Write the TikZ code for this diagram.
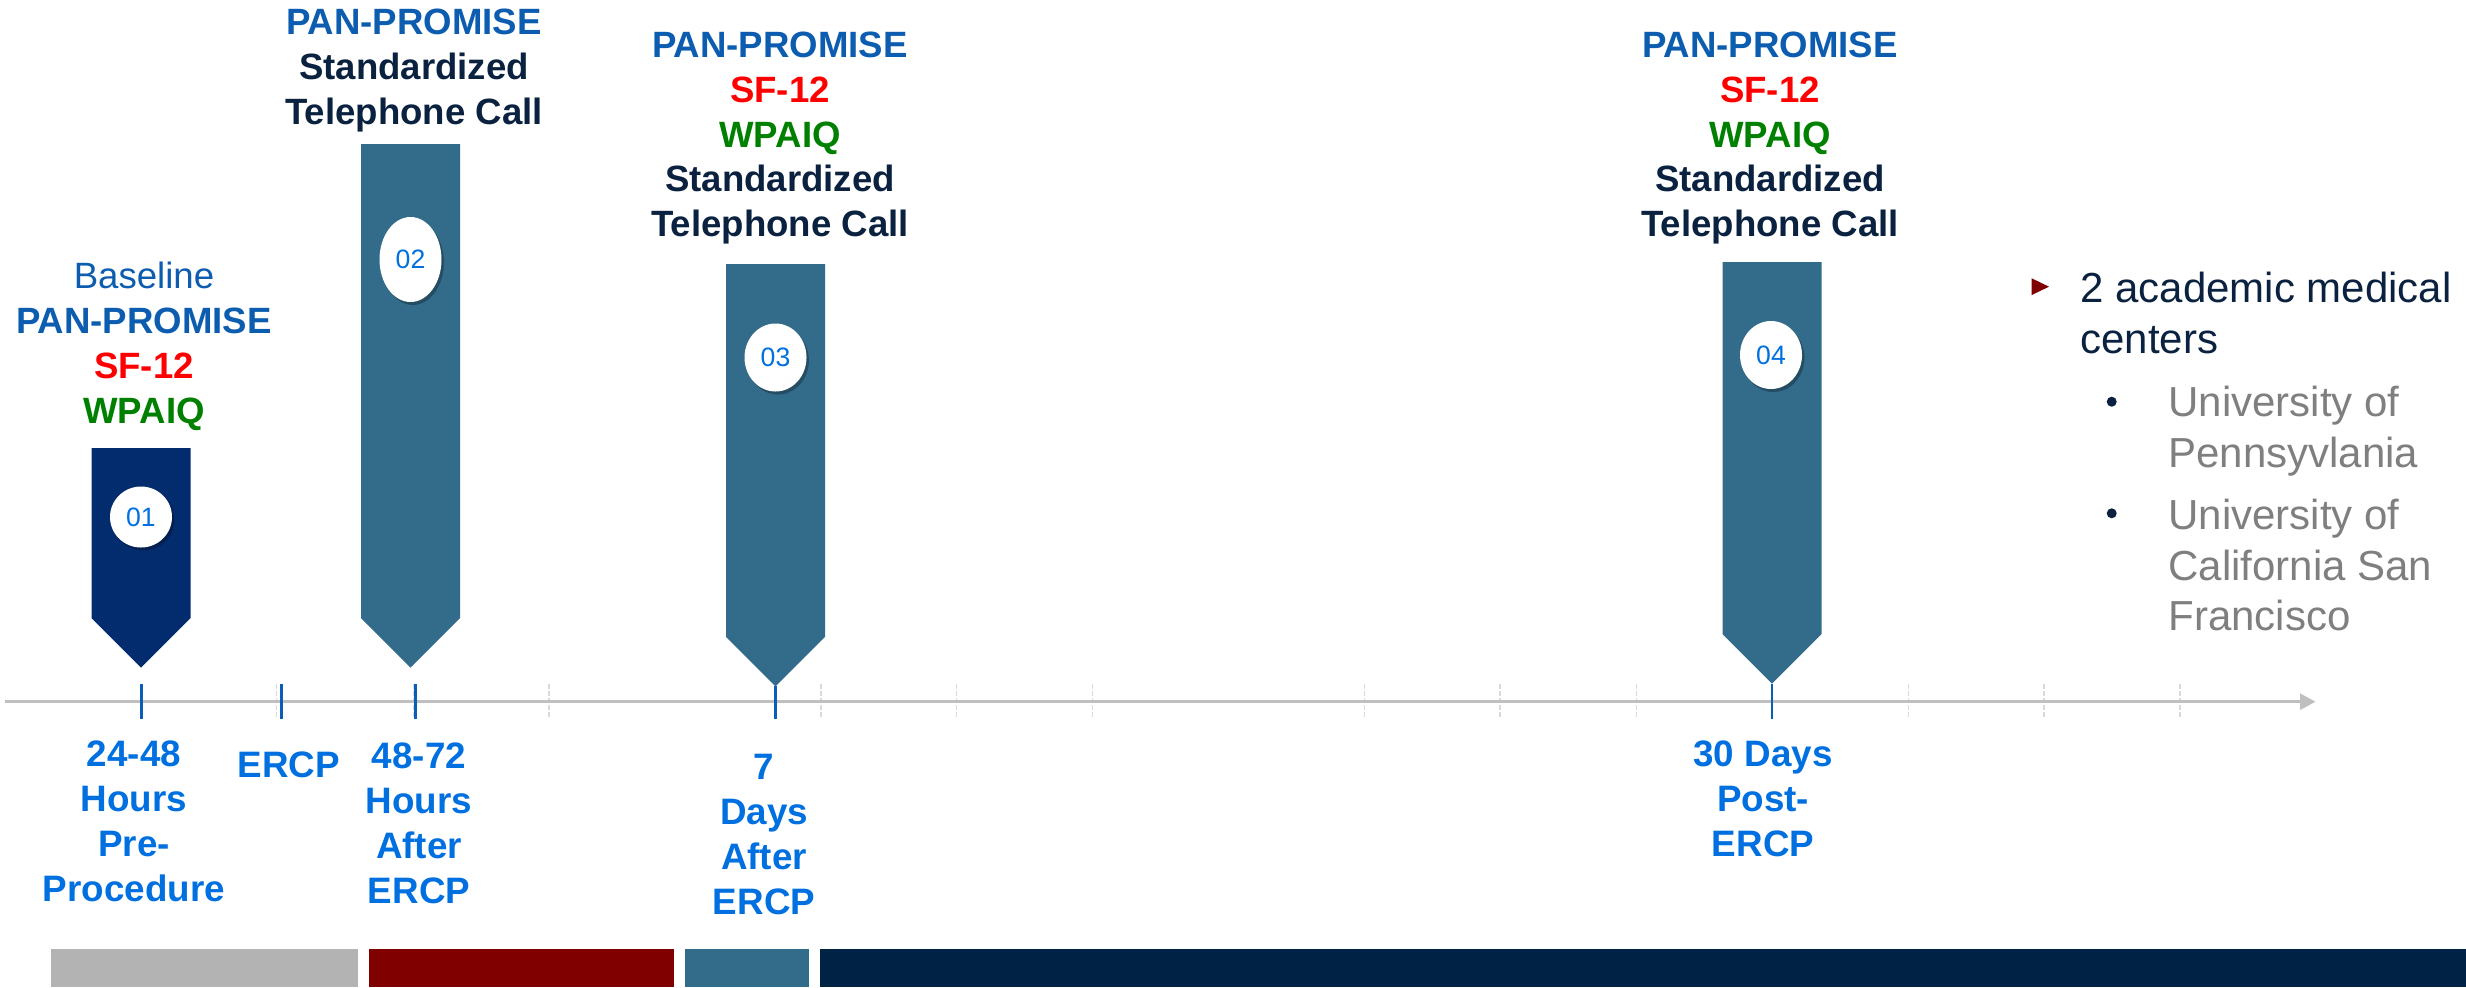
\documentclass[tikz,border=0pt]{standalone}
\usepackage{fontspec}
\setmainfont{Liberation Sans}
\usetikzlibrary{shapes.geometric,shadows,arrows.meta}

\definecolor{markernavy}{RGB}{3,44,110}
\definecolor{markersteel}{RGB}{51,107,138}
\definecolor{axisgray}{RGB}{191,191,191}
\definecolor{minorgray}{RGB}{217,217,217}
\definecolor{tickblue}{RGB}{10,94,184}
\definecolor{datablue}{RGB}{0,112,224}
\definecolor{promblue}{RGB}{12,92,176}
\definecolor{sfred}{RGB}{255,0,0}
\definecolor{wpgreen}{RGB}{0,128,0}
\definecolor{inknavy}{RGB}{10,34,64}
\definecolor{bargray}{RGB}{179,179,179}
\definecolor{barred}{RGB}{128,0,0}
\definecolor{barnavy}{RGB}{0,34,68}
\definecolor{sitegray}{RGB}{127,127,127}

\newcommand{\pp}{\textcolor{promblue}{PAN-PROMISE}}
\newcommand{\sft}{\textcolor{sfred}{SF-12}}
\newcommand{\wpq}{\textcolor{wpgreen}{WPAIQ}}
\newcommand{\stdcall}{\textcolor{inknavy}{Standardized}\\\textcolor{inknavy}{Telephone Call}}

\begin{document}
\begin{tikzpicture}[x=0.5pt,y=-0.5pt,
  axisline/.style={draw=axisgray,line width=1.35pt,-{Triangle[length=7.75pt,width=8pt]}},
  minortick/.style={draw=minorgray,line width=0.75pt,dash pattern=on 2.5pt off 1pt},
  majortick/.style={draw=tickblue,line width=1.4pt},
  badge/.style={ellipse,fill=white,inner sep=0pt,text=datablue,
    font=\fontsize{13.3}{15}\selectfont,
    drop shadow={shadow xshift=1.2pt,shadow yshift=-1.5pt,opacity=0.28,fill=black}},
  % multi-line labels are anchored at the baseline of their last line
  toplabel/.style={align=center,anchor=base,inner sep=0pt,
    font=\fontsize{18.3}{22.4}\selectfont\bfseries},
  datelabel/.style={align=center,anchor=base,inner sep=0pt,text=datablue,
    font=\fontsize{18.4}{22.5}\selectfont\bfseries},
  sitetext/.style={align=left,anchor=base west,inner sep=0pt,
    font=\fontsize{21}{25.2}\selectfont}]
\useasboundingbox (0,0) rectangle (2466,987);

% colour band along the bottom edge
\fill[bargray] (51,949) rectangle (358,987);
\fill[barred] (369,949) rectangle (674,987);
\fill[markersteel] (685,949) rectangle (808.5,987);
\fill[barnavy] (820,949) rectangle (2466,987);

% time axis with its light minor ticks
\coordinate (axisstart) at (4.6,701.7);
\coordinate (axisend) at (2315.5,701.7);
\foreach \x in {276.7,413.3,548.8,820.8,956.3,1092.5,1364.6,1500,1636.3,1908.3,2044.2,2180}
  \draw[minortick] (\x,684) -- (\x,719);
\draw[axisline] (axisstart) -- (axisend);

% visit markers (pointer shapes)
\fill[markernavy] (91.5,448) -- (190.5,448) -- (190.5,618) -- (141,667.5) -- (91.5,618) -- cycle;
\fill[markersteel] (361,144) -- (460,144) -- (460,618) -- (410.5,667.5) -- (361,618) -- cycle;
\fill[markersteel] (726,264) -- (825,264) -- (825,636.8) -- (775.5,686.3) -- (726,636.8) -- cycle;
\fill[markersteel] (1722.5,262) -- (1821.5,262) -- (1821.5,634.2) -- (1772,683.7) -- (1722.5,634.2) -- cycle;
\coordinate (tip3) at (775.5,686.3);
\coordinate (tip4) at (1772,683.7);

% event ticks on the axis
\draw[majortick] (141.2,684) -- (141.2,719);
\draw[majortick] (281.7,684) -- (281.7,719);
\draw[majortick] (415.2,684) -- (415.2,719);
\coordinate (foot3) at (775.5,719);
\coordinate (foot4) at (1772,719);
\draw[majortick] (tip3) -- (foot3);
\draw[majortick] (tip4) -- (foot4);

% numbered badges
\node[badge,minimum width=31pt,minimum height=30.5pt] (b1) at (141,517) {01};
\node[badge,minimum width=31pt,minimum height=42.5pt] (b2) at (410.5,259.5) {02};
\node[badge,minimum width=31pt,minimum height=34pt] (b3) at (775.5,357.5) {03};
\node[badge,minimum width=31pt,minimum height=34pt] (b4) at (1771,355) {04};

% instruments collected at each visit
\node[toplabel] (l1) at (144,423) {\textcolor{promblue}{\mdseries Baseline}\\\pp\\\sft\\\wpq};
\node[toplabel] (l2) at (414,124) {\pp\\\stdcall};
\node[toplabel] (l3) at (780,236.7) {\pp\\\sft\\\wpq\\\stdcall};
\node[toplabel] (l4) at (1770,236.7) {\pp\\\sft\\\wpq\\\stdcall};

% dates under the axis
\node[datelabel] (d1) at (134,901.7) {24-48\\Hours\\Pre-\\Procedure};
\node[datelabel] (d2) at (288.6,777.7) {ERCP};
\node[datelabel] (d3) at (419,903) {48-72\\Hours\\After\\ERCP};
\node[datelabel] (d4) at (764,914) {7\\Days\\After\\ERCP};
\node[datelabel] (d5) at (1763,856.7) {30 Days\\Post-\\ERCP};

% study sites
\fill[barred] (2031.7,278.3) -- (2049,286.7) -- (2031.7,295) -- cycle;
\node[sitetext,text=inknavy] (sites) at (2080,353.3) {2 academic medical\\centers};
\fill[inknavy] (2111.7,401.7) circle (5);
\fill[inknavy] (2111.7,513.3) circle (5);
\node[sitetext,text=sitegray] (penn) at (2168,467) {University of\\Pennsyvlania};
\node[sitetext,text=sitegray] (ucsf) at (2168,630.7) {University of\\California San\\Francisco};
\end{tikzpicture}
\end{document}
